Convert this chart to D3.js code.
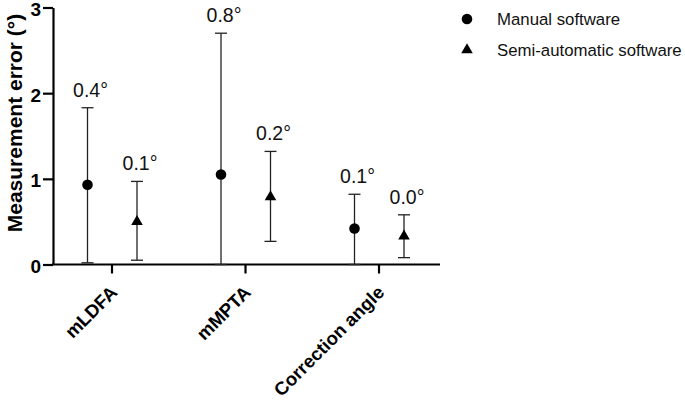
<!DOCTYPE html>
<html>
<head>
<meta charset="utf-8">
<script src="https://cdn.jsdelivr.net/npm/d3@7"></script>
<style>
body { margin: 0; background: #fff; }
text { font-family: Arial, "Liberation Sans", sans-serif; }
</style>
</head>
<body>
<svg id="chart" width="685" height="400"></svg>
<script>
// data
let categories = ["mLDFA", "mMPTA", "Correction angle"]
let series = ["Manual software", "Semi-automatic software"]
let manualMean = [0.93, 1.05, 0.42]
let manualLow = [0.02, 0.0, 0.0]
let manualHigh = [1.83, 2.70, 0.82]
let semiMean = [0.50, 0.79, 0.33]
let semiLow = [0.05, 0.27, 0.08]
let semiHigh = [0.97, 1.32, 0.58]
let manualLabels = ["0.4°", "0.8°", "0.1°"]
let semiLabels = ["0.1°", "0.2°", "0.0°"]
let yTicks = [0, 1, 2, 3]

let svg = d3.select("#chart")

let x = d3.scaleBand().domain(categories).range([45.25, 445.75])
let xOff = d3.scalePoint().domain(series).range([-24.5, 25])
let y = d3.scaleLinear().domain([0, 3]).range([264.5, 7.5])

let points = []
categories.forEach((c, i) => {
    points.push({cat: c, s: series[0], mean: manualMean[i], lo: manualLow[i], hi: manualHigh[i], label: manualLabels[i]})
    points.push({cat: c, s: series[1], mean: semiMean[i], lo: semiLow[i], hi: semiHigh[i], label: semiLabels[i]})
})
let px = d => x(d.cat) + x.bandwidth() / 2 + xOff(d.s)

// y axis
let yAxis = svg.append("g")
    .attr("transform", "translate(53,0)")
    .call(d3.axisLeft(y).tickValues(yTicks).tickFormat(d3.format("d")).tickSize(10).tickSizeOuter(0))
yAxis.select(".domain").attr("stroke-width", 2.2)
yAxis.selectAll(".tick line").attr("stroke-width", 2.2)
yAxis.selectAll(".tick text")
    .attr("font-size", 19).attr("font-weight", "bold").attr("fill", "#000")
    .attr("x", -12).attr("dy", "0.42em")

// x axis
let xAxis = svg.append("g")
    .attr("transform", "translate(0,264.5)")
    .call(d3.axisBottom(x).tickSize(9).tickSizeOuter(0))
xAxis.select(".domain").remove()
xAxis.append("line")
    .attr("x1", 52).attr("x2", 440)
    .attr("stroke", "#000").attr("stroke-width", 2.2)
xAxis.selectAll(".tick line").attr("stroke-width", 2.2)
xAxis.selectAll(".tick text")
    .attr("font-size", 18.5).attr("font-weight", "bold").attr("fill", "#000")
    .attr("text-anchor", "end")
    .attr("y", 0).attr("dy", 0)
    .attr("transform", "translate(6.5,29) rotate(-45)")

// axis title
svg.append("text")
    .attr("transform", "translate(22,123) rotate(-90)")
    .attr("text-anchor", "middle")
    .attr("font-size", 21).attr("font-weight", "bold")
    .text("Measurement error (°)")

// error bars
let g = svg.append("g")
g.selectAll("line.bar").data(points).join("line")
    .attr("class", "bar")
    .attr("x1", px).attr("x2", px)
    .attr("y1", d => y(d.lo)).attr("y2", d => y(d.hi))
    .attr("stroke", "#222").attr("stroke-width", 1.3)
g.selectAll("line.capHi").data(points).join("line")
    .attr("class", "capHi")
    .attr("x1", d => px(d) - 6).attr("x2", d => px(d) + 6)
    .attr("y1", d => y(d.hi)).attr("y2", d => y(d.hi))
    .attr("stroke", "#222").attr("stroke-width", 1.3)
g.selectAll("line.capLo").data(points).join("line")
    .attr("class", "capLo")
    .attr("x1", d => px(d) - 6).attr("x2", d => px(d) + 6)
    .attr("y1", d => y(d.lo)).attr("y2", d => y(d.lo))
    .attr("stroke", "#222").attr("stroke-width", 1.3)

let circle = d3.symbol().type(d3.symbolCircle).size(88)
let triangle = d3.symbol().type(d3.symbolTriangle).size(58)
g.selectAll("path.pt").data(points).join("path")
    .attr("class", "pt")
    .attr("d", d => d.s == series[0] ? circle() : triangle())
    .attr("transform", d => `translate(${px(d)},${y(d.mean)})`)
    .attr("fill", "#000")

g.selectAll("text.lab").data(points).join("text")
    .attr("class", "lab")
    .attr("x", d => px(d) + 3).attr("y", d => y(d.hi) - 11)
    .attr("text-anchor", "middle")
    .attr("font-size", 19.5).attr("fill", "#111")
    .text(d => d.label)

// legend
let leg = svg.append("g").attr("transform", "translate(467,19)")
series.forEach((s, i) => {
    leg.append("path")
        .attr("d", i == 0 ? circle() : triangle())
        .attr("transform", `translate(0,${i * 31})`)
        .attr("fill", "#000")
    leg.append("text")
        .attr("x", 30).attr("y", i * 31).attr("dy", "0.35em")
        .attr("font-size", 16.8).attr("fill", "#111")
        .text(s)
})
</script>
</body>
</html>
